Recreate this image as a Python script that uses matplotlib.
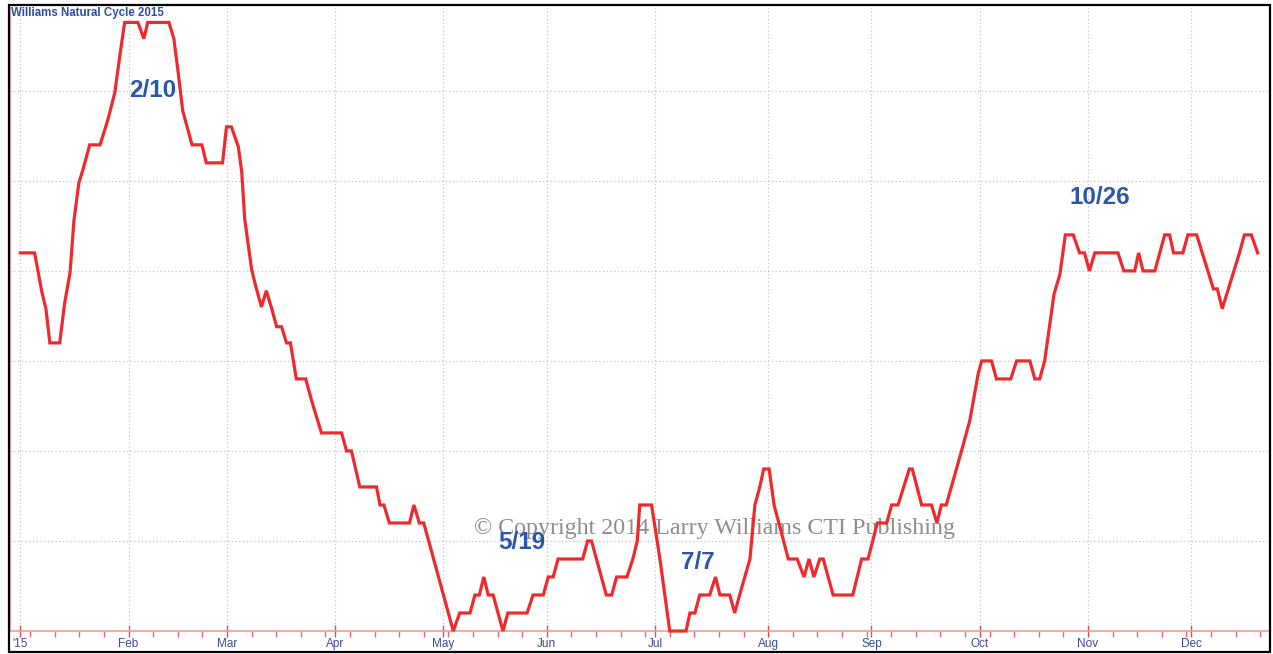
#!/usr/bin/env python3
"""Williams Natural Cycle 2015 - seasonal cycle line on a trading-day axis."""

import matplotlib

matplotlib.use("Agg")
import matplotlib.pyplot as plt
import numpy as np
from matplotlib.patches import Rectangle
from matplotlib.ticker import FixedLocator, NullFormatter


# trading session number (weekdays counted from 1 Jan 2015) and cycle level
session = [
    0.0, 2.9, 4.4, 5.2, 6.0, 8.0, 9.0, 10.1, 10.9, 11.9, 12.7, 14.1, 16.2,
    17.8, 19.2, 20.2, 21.2, 23.9, 25.1, 25.9, 30.2, 31.2, 32.0, 33.0, 34.9,
    36.9, 37.8, 41.1, 41.9, 42.9, 44.3, 45.0, 45.6, 46.3, 47.0, 47.7, 49.0,
    50.0, 51.1, 52.1, 53.1, 54.1, 54.9, 56.1, 58.0, 59.2, 60.2, 61.2, 65.3,
    66.3, 67.3, 69.0, 72.4, 73.1, 73.9, 75.0, 79.1, 80.0, 81.1, 82.0, 88.0,
    89.3, 91.4, 92.4, 93.3, 94.2, 95.1, 96.1, 98.1, 99.1, 103.0, 104.2,
    106.3, 107.3, 108.3, 109.3, 114.3, 115.3, 116.1, 119.1, 120.2, 121.2,
    123.3, 124.5, 125.4, 125.9, 128.3, 130.0, 132.0, 135.3, 136.1, 137.1,
    138.1, 140.1, 141.3, 142.2, 144.2, 145.2, 146.2, 148.3, 149.3, 150.3,
    151.1, 152.2, 153.2, 156.1, 157.9, 159.3, 160.3, 161.3, 162.5, 163.2,
    165.2, 169.2, 171.0, 172.3, 174.2, 176.1, 177.1, 178.4, 180.7, 181.3,
    183.2, 185.2, 186.3, 187.2, 188.2, 191.3, 193.0, 194.7, 195.4, 197.4,
    198.4, 201.3, 202.5, 205.2, 206.2, 207.2, 208.2, 210.1, 211.3, 212.4,
    214.0, 215.3, 216.3, 217.3, 218.4, 223.1, 224.3, 226.5, 227.3, 228.2,
    230.6, 232.6, 233.6, 234.4, 236.3, 237.3, 239.1, 242.5, 243.3, 244.3,
    247.8, 248.8, 250.2, 251.5,
]
cycle = [
    21, 21, 18.8, 17.9, 16, 16, 18.2, 19.9, 22.8, 24.9, 25.6, 27, 27,
    28.4, 29.9, 31.9, 33.8, 33.8, 32.9, 33.8, 33.8, 32.9, 31.2, 28.9, 27,
    27, 26, 26, 28, 28, 26.9, 25.5, 22.9, 21.5, 20.1, 19.3, 18,
    18.9, 17.9, 16.9, 16.9, 16, 16, 14, 14, 12.8, 11.9, 11, 11,
    10, 10, 8, 8, 7, 7, 6, 6, 7, 6, 6, 0,
    1, 1, 2, 2, 3, 2, 2, 0, 1, 1, 2,
    2, 3, 3, 4, 4, 5, 5, 2, 2, 3,
    3, 4, 5, 7, 7, 4, 0, 0, 1, 1,
    2, 2, 3, 2, 2, 1, 2, 4, 7, 8,
    9, 9, 7, 4, 4, 3, 4, 3, 4, 4,
    2, 2, 4, 4, 6, 6, 7, 7, 9, 9,
    7, 7, 6, 7, 7, 10, 11.7, 14.3, 15, 15,
    14, 14, 15, 15, 14, 14, 15, 18.7, 19.8, 22,
    22, 21, 21, 20, 21, 21, 20, 20, 21, 20,
    20, 22, 22, 21, 21, 22, 22, 19, 19, 17.9,
    21, 22, 22, 21,
]
month_labels = ["'15", "Feb", "Mar", "Apr", "May", "Jun",
                "Jul", "Aug", "Sep", "Oct", "Nov", "Dec"]
turn_points = [("2/10", 26.9, 30.0), ("5/19", 101.9, 4.9),
               ("7/7", 137.7, 3.8), ("10/26", 219.4, 24.1)]


def main() -> None:
    W, H = 1273, 654
    fig = plt.figure(figsize=(W / 100, H / 100), dpi=100)
    ax = fig.add_axes([10 / W, (H - 631) / H, 1258 / W, 623 / H])

    month_pos = [np.busday_count("2015-01-01", f"2015-{m:02d}-01")
                 for m in range(1, 13)]
    mondays = np.arange("2015-01-05", "2015-12-29", 7, dtype="datetime64[D]")
    week_pos = [np.busday_count("2015-01-01", d) for d in mondays]

    blue = "#2c56a6"
    pink = "#f09a9a"
    grid = dict(color="#c4c4c4", linestyle=(0, (1, 2)), linewidth=0.9)

    for v in range(5, 35, 5):
        ax.axhline(v, zorder=1, **grid)
    for p in month_pos:
        ax.axvline(p, zorder=1, **grid)

    ax.text(
        141, 5.7, "\u00a9 Copyright 2014 Larry Williams CTI Publishing",
        family=["Liberation Serif", "DejaVu Serif"], fontsize=17.3,
        color="#8e8e8e", ha="center", va="center", zorder=2,
    )

    ax.plot(session, cycle, color="#ee2a2e", linewidth=2.3,
            solid_joinstyle="miter", zorder=3, clip_on=False)

    for text, x, y in turn_points:
        ax.text(x, y, text, family=["Liberation Sans", "DejaVu Sans"],
                fontsize=17.5, fontweight="bold", color=blue,
                ha="center", va="center", zorder=4)

    ax.set_xlim(-2.1, 253.6)
    ax.set_ylim(0, 34.6)

    for side in ("top", "right"):
        ax.spines[side].set_visible(False)
    ax.spines["bottom"].set_color(pink)
    ax.spines["bottom"].set_linewidth(1.2)
    ax.spines["left"].set_color(pink)
    ax.spines["left"].set_linewidth(1.2)

    ax.set_yticks([])
    ax.set_xticks(month_pos)
    ax.set_xticklabels(month_labels)
    ax.xaxis.set_minor_locator(FixedLocator(week_pos))
    ax.xaxis.set_minor_formatter(NullFormatter())
    ax.tick_params(axis="x", which="major", direction="inout", length=9,
                   width=1.0, color="#e05050", pad=0.5,
                   labelsize=8.5, labelcolor="#3a4a9a")
    ax.tick_params(axis="x", which="minor", direction="out", length=4,
                   width=1.0, color="#e46a6a")
    for lab in ax.get_xticklabels():
        lab.set_family(["Liberation Sans", "DejaVu Sans"])

    fig.text(11 / W, 1 - 13 / H, "Williams Natural Cycle 2015",
             family=["Liberation Sans", "DejaVu Sans"], fontsize=8.3,
             fontweight="bold", color="#2f4ea0", ha="left", va="center")

    fig.patches.append(Rectangle((9 / W, 2 / H), 1261 / W, 647 / H,
                                 transform=fig.transFigure, fill=False,
                                 edgecolor="black", linewidth=1.6))

    fig.savefig("out.png", dpi=100)
    plt.close(fig)


if __name__ == "__main__":
    main()
